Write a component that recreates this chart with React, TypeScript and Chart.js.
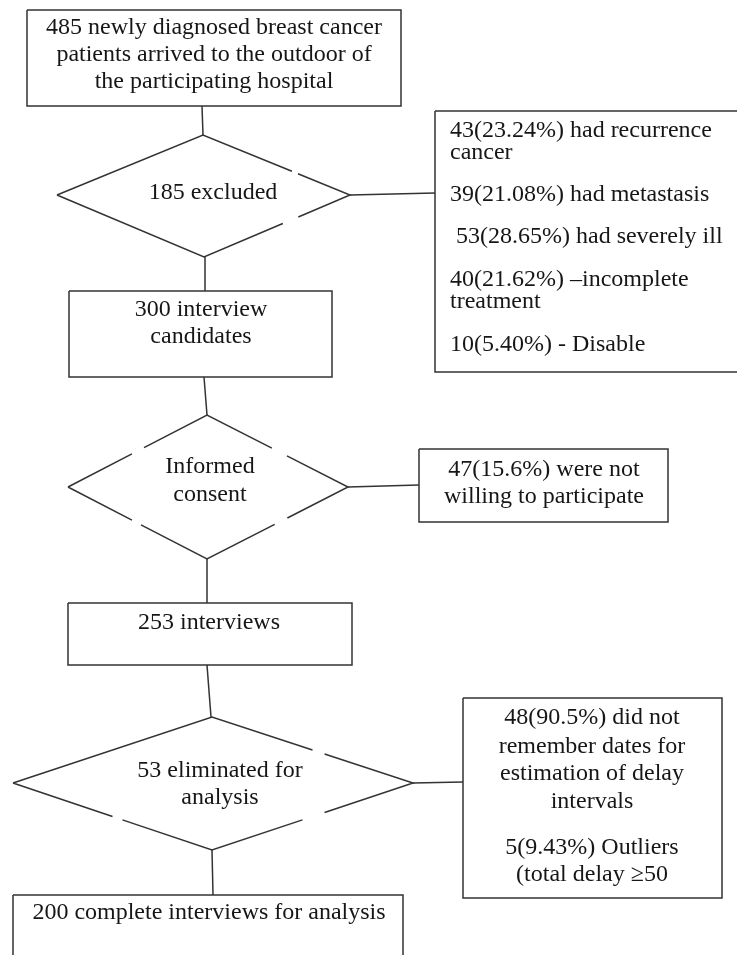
import React, { useEffect, useRef } from "react";
import { Chart, registerables } from "chart.js";

Chart.register(...registerables);

const W = 737;
const H = 955;

// ---- Text content ----
const startLines = ["485 newly diagnosed breast cancer", "patients arrived to the outdoor of", "the participating hospital"];
const excludedLabel = ["185 excluded"];
const exclusionReasons = [
  "43(23.24%) had recurrence",
  "cancer",
  "39(21.08%) had metastasis",
  " 53(28.65%) had severely ill",
  "40(21.62%) \u2013incomplete",
  "treatment",
  "10(5.40%) - Disable",
];
const candidatesLines = ["300 interview", "candidates"];
const consentLabel = ["Informed", "consent"];
const refusedLines = ["47(15.6%) were not", "willing to participate"];
const interviewsLabel = ["253 interviews"];
const eliminatedLabel = ["53 eliminated for", "analysis"];
const eliminationReasons = [
  "48(90.5%) did not",
  "remember dates for",
  "estimation of delay",
  "intervals",
  "5(9.43%) Outliers",
  "(total delay \u226550",
];
const finalLabel = ["200 complete interviews for analysis"];

// ---- Layout (in chart data units; x 0..737, y 0..955 top-down) ----
const boxRects: number[][] = [
  [27, 10, 401, 106],
  [435, 111, 745, 372],
  [69, 291, 332, 377],
  [419, 449, 668, 522],
  [68, 603, 352, 665],
  [463, 698, 722, 898],
  [13, 895, 403, 975],
];

// [leftX, leftY, topX, topY, rightX, rightY, bottomX, bottomY]
const diamondVertices: number[][] = [
  [57, 195, 203, 135, 350, 195, 204, 257],
  [68, 487, 207, 415, 348, 487, 207, 559],
  [13, 783, 212, 717, 413, 783, 212, 850],
];
// edge index (0 left-top, 1 top-right, 2 right-bottom, 3 bottom-left), from, to
const diamondGaps: number[][][] = [
  [[1, 0.605, 0.646], [2, 0.354, 0.46]],
  [[0, 0.46, 0.547], [1, 0.46, 0.567], [2, 0.43, 0.52], [3, 0.475, 0.54]],
  [[1, 0.5, 0.56], [2, 0.44, 0.55], [3, 0.45, 0.5]],
];

const connectors: number[][] = [
  [202, 106, 203, 135],
  [350, 195, 435, 193],
  [205, 257, 205, 291],
  [204, 377, 207, 415],
  [348, 487, 419, 485],
  [207, 559, 207, 603],
  [207, 665, 211, 717],
  [413, 783, 463, 782],
  [212, 850, 213, 895],
];

// text blocks: lines, anchor x, line y's, alignment
const textBlocks: { lines: string[]; x: number; ys: number[]; align: CanvasTextAlign }[] = [
  { lines: startLines, x: 214, ys: [28, 55, 82], align: "center" },
  { lines: excludedLabel, x: 213, ys: [193], align: "center" },
  { lines: exclusionReasons, x: 450, ys: [131, 153, 195, 237, 280, 302, 345], align: "left" },
  { lines: candidatesLines, x: 201, ys: [310, 337], align: "center" },
  { lines: consentLabel, x: 210, ys: [467, 495], align: "center" },
  { lines: refusedLines, x: 544, ys: [470, 497], align: "center" },
  { lines: interviewsLabel, x: 209, ys: [623], align: "center" },
  { lines: eliminatedLabel, x: 220, ys: [771, 798], align: "center" },
  { lines: eliminationReasons, x: 592, ys: [718, 747, 774, 802, 848, 875], align: "center" },
  { lines: finalLabel, x: 209, ys: [913], align: "center" },
];

const LINE_COLOR = "#333333";
const TEXT_COLOR = "#161616";
const FONT = '24px "Liberation Serif", "Times New Roman", serif';

type P = { x: number; y: number | null };

function buildDatasets() {
  const sets: any[] = [];
  const base = {
    showLine: true,
    pointRadius: 0,
    pointHoverRadius: 0,
    borderColor: LINE_COLOR,
    borderWidth: 1.5,
    fill: false,
    tension: 0,
    spanGaps: false,
  };
  boxRects.forEach(([x0, y0, x1, y1]) => {
    sets.push({
      ...base,
      data: [
        { x: x0, y: y0 },
        { x: x1, y: y0 },
        { x: x1, y: y1 },
        { x: x0, y: y1 },
        { x: x0, y: y0 },
      ],
    });
  });
  diamondVertices.forEach((v, di) => {
    const pts = [
      [v[0], v[1]],
      [v[2], v[3]],
      [v[4], v[5]],
      [v[6], v[7]],
    ];
    const data: P[] = [];
    for (let e = 0; e < 4; e++) {
      const a = pts[e];
      const b = pts[(e + 1) % 4];
      const lerp = (t: number) => ({ x: a[0] + (b[0] - a[0]) * t, y: a[1] + (b[1] - a[1]) * t });
      data.push({ x: a[0], y: a[1] });
      diamondGaps[di]
        .filter((g) => g[0] === e)
        .forEach((g) => {
          const p0 = lerp(g[1]);
          const p1 = lerp(g[2]);
          data.push(p0);
          data.push({ x: (p0.x + p1.x) / 2, y: null });
          data.push(p1);
        });
    }
    data.push({ x: pts[0][0], y: pts[0][1] });
    sets.push({ ...base, data });
  });
  connectors.forEach(([x0, y0, x1, y1]) => {
    sets.push({
      ...base,
      data: [
        { x: x0, y: y0 },
        { x: x1, y: y1 },
      ],
    });
  });
  return sets;
}

const textPlugin = {
  id: "flowText",
  afterDatasetsDraw(chart: any) {
    const { ctx, scales } = chart;
    const xs = scales.x;
    const ys = scales.y;
    ctx.save();
    ctx.fillStyle = TEXT_COLOR;
    ctx.font = FONT;
    ctx.textBaseline = "middle";
    textBlocks.forEach((b) => {
      ctx.textAlign = b.align;
      b.lines.forEach((line, i) => {
        ctx.fillText(line, xs.getPixelForValue(b.x), ys.getPixelForValue(b.ys[i]));
      });
    });
    ctx.restore();
  },
};

const whiteBg = {
  id: "whiteBg",
  beforeDraw(chart: any) {
    const { ctx, width, height } = chart;
    ctx.save();
    ctx.fillStyle = "#ffffff";
    ctx.fillRect(0, 0, width, height);
    ctx.restore();
  },
};

export default function App() {
  const ref = useRef<HTMLCanvasElement | null>(null);
  useEffect(() => {
    if (!ref.current) return;
    const chart = new Chart(ref.current, {
      type: "scatter",
      data: { datasets: buildDatasets() },
      options: {
        animation: false,
        responsive: false,
        devicePixelRatio: 1,
        layout: { padding: 0 },
        events: [],
        scales: {
          x: { type: "linear", min: 0, max: W, display: false },
          y: { type: "linear", min: 0, max: H, reverse: true, display: false },
        },
        plugins: { legend: { display: false }, tooltip: { enabled: false } },
      } as any,
      plugins: [whiteBg, textPlugin],
    });
    return () => chart.destroy();
  }, []);
  return (
    <div style={{ position: "absolute", left: 0, top: 0, width: W, height: H, background: "#fff" }}>
      <canvas ref={ref} width={W} height={H} style={{ display: "block" }} />
    </div>
  );
}
